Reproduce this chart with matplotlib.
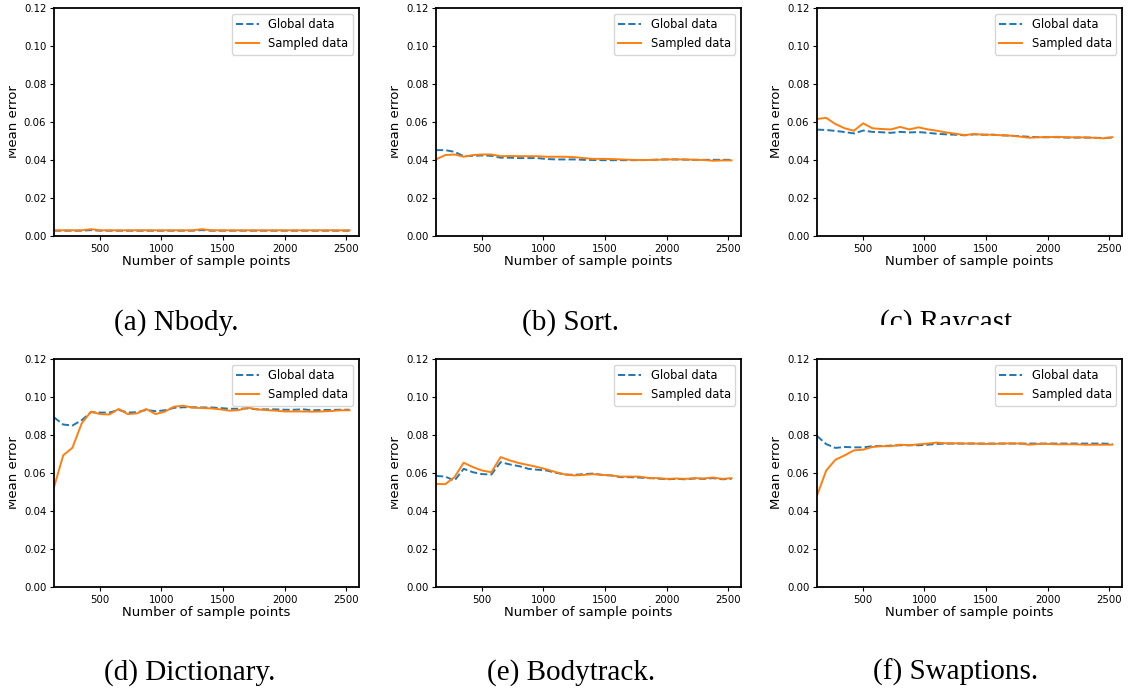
import matplotlib
matplotlib.use("Agg")
import matplotlib.pyplot as plt
from matplotlib.transforms import Bbox

# Sample counts shared by every benchmark
sample_points = [128, 203, 278, 353, 428, 503, 578, 653, 728, 803, 878, 953, 1028,
                 1103, 1178, 1253, 1328, 1403, 1478, 1553, 1628, 1703, 1778, 1853,
                 1928, 2003, 2078, 2153, 2228, 2303, 2378, 2453, 2528]

nbody_global = [0.0028, 0.0028, 0.0028, 0.0028, 0.0031, 0.0028, 0.0028, 0.0028, 0.0028,
                0.0028, 0.0028, 0.0028, 0.0028, 0.0028, 0.0028, 0.0028, 0.0031, 0.0028,
                0.0028, 0.0028, 0.0028, 0.0028, 0.0028, 0.0028, 0.0028, 0.0028, 0.0028,
                0.0028, 0.0028, 0.0028, 0.0028, 0.0028, 0.0028]
nbody_sampled = [0.0030, 0.0030, 0.0030, 0.0030, 0.0036, 0.0030, 0.0030, 0.0030, 0.0030,
                 0.0030, 0.0030, 0.0030, 0.0030, 0.0030, 0.0030, 0.0030, 0.0036, 0.0030,
                 0.0030, 0.0030, 0.0030, 0.0030, 0.0030, 0.0030, 0.0030, 0.0030, 0.0030,
                 0.0030, 0.0030, 0.0030, 0.0030, 0.0030, 0.0030]

sort_global = [0.0452, 0.0452, 0.0443, 0.0420, 0.0422, 0.0424, 0.0422, 0.0412, 0.0412,
               0.0410, 0.0410, 0.0410, 0.0405, 0.0403, 0.0403, 0.0403, 0.0401, 0.0400,
               0.0399, 0.0399, 0.0399, 0.0399, 0.0399, 0.0400, 0.0402, 0.0403, 0.0403,
               0.0402, 0.0401, 0.0401, 0.0401, 0.0401, 0.0401]
sort_sampled = [0.0403, 0.0426, 0.0429, 0.0417, 0.0426, 0.0429, 0.0429, 0.0420, 0.0421,
                0.0420, 0.0420, 0.0420, 0.0417, 0.0417, 0.0417, 0.0415, 0.0410, 0.0406,
                0.0406, 0.0405, 0.0403, 0.0401, 0.0400, 0.0400, 0.0401, 0.0403, 0.0403,
                0.0403, 0.0401, 0.0400, 0.0396, 0.0398, 0.0398]

raycast_global = [0.0560, 0.0558, 0.0553, 0.0547, 0.0540, 0.0555, 0.0548, 0.0546, 0.0543,
                  0.0548, 0.0545, 0.0547, 0.0543, 0.0538, 0.0535, 0.0533, 0.0530, 0.0535,
                  0.0533, 0.0533, 0.0530, 0.0528, 0.0525, 0.0522, 0.0520, 0.0520, 0.0520,
                  0.0518, 0.0518, 0.0518, 0.0517, 0.0516, 0.0518]
raycast_sampled = [0.0616, 0.0622, 0.0589, 0.0567, 0.0554, 0.0593, 0.0567, 0.0563, 0.0561,
                   0.0574, 0.0561, 0.0572, 0.0561, 0.0554, 0.0545, 0.0538, 0.0531, 0.0537,
                   0.0533, 0.0533, 0.0530, 0.0528, 0.0523, 0.0517, 0.0520, 0.0520, 0.0522,
                   0.0520, 0.0519, 0.0519, 0.0517, 0.0514, 0.0520]

dictionary_global = [0.0893, 0.0855, 0.0850, 0.0878, 0.0920, 0.0918, 0.0918, 0.0932, 0.0918,
                     0.0920, 0.0932, 0.0925, 0.0930, 0.0943, 0.0946, 0.0946, 0.0945, 0.0945,
                     0.0942, 0.0938, 0.0938, 0.0940, 0.0935, 0.0935, 0.0935, 0.0933, 0.0933,
                     0.0935, 0.0930, 0.0932, 0.0932, 0.0933, 0.0933]
dictionary_sampled = [0.0525, 0.0693, 0.0733, 0.0861, 0.0923, 0.0910, 0.0908, 0.0937, 0.0910,
                      0.0914, 0.0937, 0.0910, 0.0923, 0.0949, 0.0954, 0.0944, 0.0942, 0.0940,
                      0.0935, 0.0928, 0.0931, 0.0944, 0.0935, 0.0931, 0.0928, 0.0924, 0.0924,
                      0.0924, 0.0923, 0.0924, 0.0926, 0.0930, 0.0930]

bodytrack_global = [0.0585, 0.0581, 0.0560, 0.0622, 0.0604, 0.0594, 0.0592, 0.0657, 0.0645,
                    0.0636, 0.0622, 0.0617, 0.0613, 0.0601, 0.0592, 0.0590, 0.0594, 0.0597,
                    0.0590, 0.0587, 0.0578, 0.0578, 0.0576, 0.0573, 0.0571, 0.0567, 0.0569,
                    0.0567, 0.0571, 0.0569, 0.0573, 0.0567, 0.0569]
bodytrack_sampled = [0.0543, 0.0541, 0.0578, 0.0654, 0.0631, 0.0613, 0.0604, 0.0684, 0.0666,
                     0.0652, 0.0642, 0.0631, 0.0619, 0.0604, 0.0592, 0.0587, 0.0590, 0.0594,
                     0.0590, 0.0587, 0.0581, 0.0581, 0.0581, 0.0574, 0.0573, 0.0569, 0.0571,
                     0.0569, 0.0573, 0.0571, 0.0576, 0.0569, 0.0573]

swaptions_global = [0.0795, 0.0752, 0.0732, 0.0737, 0.0735, 0.0735, 0.0741, 0.0742, 0.0744,
                    0.0746, 0.0746, 0.0746, 0.0749, 0.0753, 0.0755, 0.0755, 0.0755, 0.0755,
                    0.0755, 0.0755, 0.0755, 0.0755, 0.0755, 0.0755, 0.0755, 0.0755, 0.0755,
                    0.0755, 0.0755, 0.0755, 0.0755, 0.0755, 0.0753]
swaptions_sampled = [0.0481, 0.0613, 0.0670, 0.0693, 0.0719, 0.0723, 0.0737, 0.0741, 0.0741,
                     0.0749, 0.0746, 0.0751, 0.0755, 0.0760, 0.0756, 0.0756, 0.0755, 0.0755,
                     0.0753, 0.0753, 0.0755, 0.0756, 0.0755, 0.0749, 0.0753, 0.0753, 0.0751,
                     0.0751, 0.0751, 0.0749, 0.0749, 0.0749, 0.0749]

captions = ["(a) Nbody.", "(b) Sort.", "(c) Raycast.",
            "(d) Dictionary.", "(e) Bodytrack.", "(f) Swaptions."]
panels = [(nbody_global, nbody_sampled), (sort_global, sort_sampled),
          (raycast_global, raycast_sampled), (dictionary_global, dictionary_sampled),
          (bodytrack_global, bodytrack_sampled), (swaptions_global, swaptions_sampled)]
y_ticks = [0.00, 0.02, 0.04, 0.06, 0.08, 0.10, 0.12]
x_ticks = [500, 1000, 1500, 2000, 2500]

W, H = 1135, 692
fig = plt.figure(figsize=(W / 100, H / 100), dpi=100)

col_left = [54, 436, 817]
row_top = [8, 359]
ax_w, ax_h = 305, 228
# caption centres (pixels from the left) and baselines (pixels from the top)
cap_x = [176, 571, 950, 190, 571, 956]
cap_base = [330, 680]

axes = []
for i, (g, s) in enumerate(panels):
    r, c = divmod(i, 3)
    ax = fig.add_axes([col_left[c] / W, 1 - (row_top[r] + ax_h) / H, ax_w / W, ax_h / H])
    ax.plot(sample_points, g, linestyle="--", color="#1f77b4", linewidth=1.4, label="Global data")
    ax.plot(sample_points, s, linestyle="-", color="#ff7f0e", linewidth=1.4, label="Sampled data")
    ax.set_xlim(128, 2605)
    ax.set_ylim(0, 0.12)
    ax.set_yticks(y_ticks)
    ax.set_yticklabels([f"{v:.2f}" for v in y_ticks])
    ax.set_xticks(x_ticks)
    ax.tick_params(labelsize=7.3, length=3, width=0.8, pad=2.5)
    for sp in ax.spines.values():
        sp.set_linewidth(1.3)
    ax.set_xlabel("Number of sample points", fontsize=9.5, labelpad=1)
    ax.set_ylabel("Mean error", fontsize=9.5, labelpad=3)
    ax.legend(loc="upper right", fontsize=8.3, handlelength=2.0,
              borderaxespad=0.5, frameon=True)
    axes.append(ax)

    t = fig.text(cap_x[i] / W, 1 - cap_base[r] / H, captions[i], ha="center",
                 va="baseline", fontfamily="Liberation Serif", fontsize=21)
    if i == 2:
        # the lower part of this caption is hidden
        t.set_clip_box(Bbox.from_extents(0, H - 325, W, H))
        t.set_clip_on(True)

fig.canvas.draw()
renderer = fig.canvas.get_renderer()
for i in (0, 1, 3, 4):
    lab = axes[i].yaxis.label
    ext = lab.get_window_extent(renderer)
    lab.set_clip_box(Bbox.from_extents(ext.x0 + 2.0, 0, W, H))
    lab.set_clip_on(True)

fig.savefig("out.png", dpi=100)
